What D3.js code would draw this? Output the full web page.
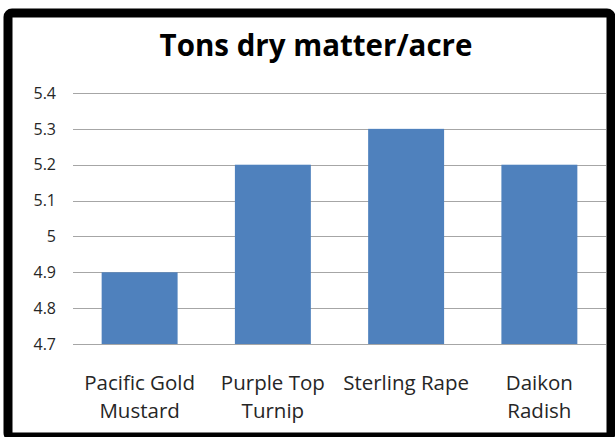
<!DOCTYPE html>
<html>
<head>
<meta charset="utf-8">
<script src="https://cdn.jsdelivr.net/npm/d3@7"></script>
<style>
  body { margin: 0; background: #fff; }
  text { font-family: "Open Sans", Lato, sans-serif; }
</style>
</head>
<body>
<div id="chart"></div>
<script>
const categories = ["Pacific Gold|Mustard", "Purple Top|Turnip", "Sterling Rape", "Daikon|Radish"];
const values = [4.9, 5.2, 5.3, 5.2];
const tickValues = [4.7, 4.8, 4.9, 5.0, 5.1, 5.2, 5.3, 5.4];

const width = 615, height = 437;

const svg = d3.select("#chart")
  .append("svg")
    .attr("width", width)
    .attr("height", height);

// black frame like the pasted screenshot
svg.append("rect")
  .attr("x", 8).attr("y", 13)
  .attr("width", 603).attr("height", 424)
  .attr("rx", 4)
  .attr("fill", "#fff")
  .attr("stroke", "#000")
  .attr("stroke-width", 9);

const x = d3.scaleBand()
  .domain(categories)
  .range([73, 606])
  .paddingInner(0.43)
  .paddingOuter(0.215);

const y = d3.scaleLinear()
  .domain([4.7, 5.4])
  .range([344, 93]);

// gridlines
svg.append("g")
  .selectAll("line")
  .data(tickValues)
  .enter()
  .append("line")
    .attr("x1", 73).attr("x2", 606)
    .attr("y1", d => Math.round(y(d)) + 0.5)
    .attr("y2", d => Math.round(y(d)) + 0.5)
    .attr("stroke", "#a6a6a6")
    .attr("stroke-width", 1.2);

// y labels
svg.append("g")
  .selectAll("text")
  .data(tickValues)
  .enter()
  .append("text")
    .attr("x", 56)
    .attr("y", d => y(d))
    .attr("dy", "0.36em")
    .attr("text-anchor", "end")
    .attr("font-size", 16)
    .attr("fill", "#262626")
    .text(d => d3.format("")(+d.toFixed(1)));

// bars
svg.append("g")
  .selectAll("rect")
  .data(values)
  .enter()
  .append("rect")
    .attr("x", (d, i) => x(categories[i]))
    .attr("y", d => y(d))
    .attr("width", x.bandwidth())
    .attr("height", d => y(4.7) - y(d))
    .attr("fill", "#4f81bd");

// category labels
const lab = svg.append("g")
  .selectAll("text")
  .data(categories)
  .enter()
  .append("text")
    .attr("x", d => x(d) + x.bandwidth() / 2)
    .attr("y", 390)
    .attr("text-anchor", "middle")
    .attr("font-size", 20.5)
    .attr("fill", "#262626");

lab.selectAll("tspan")
  .data(d => d.split("|"))
  .enter()
  .append("tspan")
    .attr("x", function() { return this.parentNode.getAttribute("x"); })
    .attr("dy", (d, i) => i ? 28 : 0)
    .text(d => d);

svg.append("text")
  .attr("x", 316)
  .attr("y", 56)
  .attr("text-anchor", "middle")
  .attr("font-size", 29.5)
  .attr("font-weight", "bold")
  .attr("fill", "#000")
  .text("Tons dry matter/acre");
</script>
</body>
</html>
